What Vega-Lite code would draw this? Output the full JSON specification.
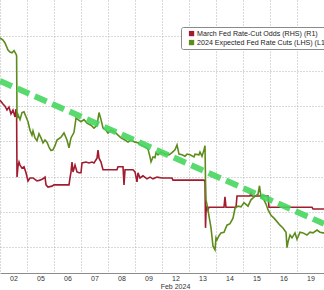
{
  "$schema": "https://vega.github.io/schema/vega-lite/v6.json",
  "width": 324,
  "height": 273,
  "autosize": {"type": "none"},
  "padding": {"left": 0, "top": 0, "right": 0, "bottom": 17},
  "background": "white",
  "config": {
    "view": {"stroke": null},
    "font": "Liberation Sans",
    "axisX": {
      "values": [0, 1, 2, 3, 4, 5, 6, 7, 8, 9, 10, 11],
      "labelExpr": "['02','05','06','07','08','09','12','13','14','15','16','19'][datum.value]",
      "labelOffset": 13.5, "labelAlign": "center", "labelFontSize": 7, "labelColor": "#333333",
      "labelPadding": 1, "labelFlush": false, "labelOverlap": false, "labelBound": false,
      "ticks": false, "grid": true, "gridDash": [1, 2], "gridColor": "#b5b5b5",
      "domainColor": "#8c8c8c",
      "titleFontSize": 7, "titleFontWeight": "normal", "titleColor": "#333333",
      "titleX": 175, "titleY": 15.5, "titleAlign": "center", "titleBaseline": "alphabetic"
    }
  },
  "datasets": {
    "odds": [
      {"t": 0, "odds": 40.2}, {"t": 0.111, "odds": 39.3}, {"t": 0.185, "odds": 38.8}, {"t": 0.259, "odds": 37.9},
      {"t": 0.333, "odds": 38.6}, {"t": 0.407, "odds": 37.0}, {"t": 0.481, "odds": 37.9}, {"t": 0.556, "odds": 36.3},
      {"t": 0.593, "odds": 38.1}, {"t": 0.615, "odds": 37.2}, {"t": 0.63, "odds": 22.3}, {"t": 0.667, "odds": 24.9},
      {"t": 0.704, "odds": 25.8}, {"t": 0.741, "odds": 25.1}, {"t": 0.815, "odds": 24.4}, {"t": 0.889, "odds": 24.7},
      {"t": 0.963, "odds": 23.3}, {"t": 1.037, "odds": 21.4}, {"t": 1.111, "odds": 22.1}, {"t": 1.222, "odds": 22.1},
      {"t": 1.37, "odds": 21.4}, {"t": 1.481, "odds": 21.6}, {"t": 1.593, "odds": 21.9}, {"t": 1.667, "odds": 22.3},
      {"t": 1.704, "odds": 20.5}, {"t": 1.778, "odds": 20.0}, {"t": 1.926, "odds": 20.2}, {"t": 2.0, "odds": 20.5},
      {"t": 2.556, "odds": 20.5}, {"t": 2.593, "odds": 22.1}, {"t": 2.63, "odds": 23.5}, {"t": 2.667, "odds": 25.8},
      {"t": 2.704, "odds": 23.5}, {"t": 2.778, "odds": 25.1}, {"t": 2.852, "odds": 23.5}, {"t": 2.926, "odds": 23.3},
      {"t": 3.0, "odds": 23.3}, {"t": 3.037, "odds": 25.6}, {"t": 3.185, "odds": 25.8}, {"t": 3.296, "odds": 25.6},
      {"t": 3.407, "odds": 25.8}, {"t": 3.481, "odds": 25.6}, {"t": 3.593, "odds": 26.7}, {"t": 3.63, "odds": 28.6},
      {"t": 3.667, "odds": 26.7}, {"t": 3.741, "odds": 25.8}, {"t": 3.815, "odds": 24.0}, {"t": 4.333, "odds": 24.0},
      {"t": 4.37, "odds": 24.7}, {"t": 4.556, "odds": 24.7}, {"t": 4.593, "odds": 20.5}, {"t": 4.63, "odds": 24.0},
      {"t": 4.926, "odds": 24.0}, {"t": 5.0, "odds": 23.5}, {"t": 5.074, "odds": 21.2}, {"t": 5.111, "odds": 23.3},
      {"t": 5.185, "odds": 22.1}, {"t": 5.296, "odds": 22.6}, {"t": 5.444, "odds": 21.9}, {"t": 5.556, "odds": 22.3},
      {"t": 5.667, "odds": 21.9}, {"t": 5.815, "odds": 22.3}, {"t": 6.0, "odds": 22.1}, {"t": 6.37, "odds": 22.1},
      {"t": 6.407, "odds": 21.6}, {"t": 7.556, "odds": 21.6}, {"t": 7.593, "odds": 21.2}, {"t": 7.611, "odds": 10.5},
      {"t": 7.63, "odds": 14.2}, {"t": 7.667, "odds": 15.6}, {"t": 7.704, "odds": 14.7}, {"t": 7.741, "odds": 15.3},
      {"t": 8.296, "odds": 15.3}, {"t": 8.333, "odds": 17.7}, {"t": 8.37, "odds": 15.3}, {"t": 8.741, "odds": 15.3},
      {"t": 8.778, "odds": 17.9}, {"t": 9.259, "odds": 17.9}, {"t": 9.296, "odds": 18.6}, {"t": 9.333, "odds": 17.9},
      {"t": 9.926, "odds": 17.9}, {"t": 9.963, "odds": 15.3}, {"t": 11.556, "odds": 15.3}, {"t": 11.593, "odds": 14.9},
      {"t": 12.0, "odds": 14.9}
    ],
    "cuts": [
      {"t": 0, "cuts": 6.47}, {"t": 0.111, "cuts": 6.44}, {"t": 0.185, "cuts": 6.40}, {"t": 0.296, "cuts": 6.30},
      {"t": 0.37, "cuts": 6.27}, {"t": 0.444, "cuts": 6.26}, {"t": 0.519, "cuts": 6.29}, {"t": 0.593, "cuts": 6.24},
      {"t": 0.615, "cuts": 6.22}, {"t": 0.63, "cuts": 5.33}, {"t": 0.667, "cuts": 5.38}, {"t": 0.741, "cuts": 5.31},
      {"t": 0.815, "cuts": 5.41}, {"t": 0.889, "cuts": 5.42}, {"t": 0.963, "cuts": 5.35}, {"t": 1.037, "cuts": 5.28},
      {"t": 1.111, "cuts": 5.16}, {"t": 1.185, "cuts": 5.09}, {"t": 1.222, "cuts": 5.15}, {"t": 1.296, "cuts": 5.05},
      {"t": 1.37, "cuts": 5.01}, {"t": 1.444, "cuts": 5.11}, {"t": 1.519, "cuts": 5.05}, {"t": 1.593, "cuts": 4.98},
      {"t": 1.667, "cuts": 5.02}, {"t": 1.741, "cuts": 4.99}, {"t": 1.815, "cuts": 4.92}, {"t": 1.889, "cuts": 4.87},
      {"t": 1.963, "cuts": 4.88}, {"t": 2.037, "cuts": 4.94}, {"t": 2.111, "cuts": 5.02}, {"t": 2.259, "cuts": 5.06},
      {"t": 2.37, "cuts": 5.12}, {"t": 2.481, "cuts": 5.02}, {"t": 2.556, "cuts": 4.91}, {"t": 2.63, "cuts": 5.05},
      {"t": 2.741, "cuts": 5.13}, {"t": 2.815, "cuts": 5.33}, {"t": 2.889, "cuts": 5.31}, {"t": 3.0, "cuts": 5.28},
      {"t": 3.111, "cuts": 5.31}, {"t": 3.222, "cuts": 5.26}, {"t": 3.37, "cuts": 5.23}, {"t": 3.481, "cuts": 5.19},
      {"t": 3.593, "cuts": 5.23}, {"t": 3.667, "cuts": 5.41}, {"t": 3.741, "cuts": 5.31}, {"t": 3.815, "cuts": 5.19},
      {"t": 3.926, "cuts": 5.16}, {"t": 4.0, "cuts": 5.12}, {"t": 4.111, "cuts": 5.16}, {"t": 4.259, "cuts": 5.13},
      {"t": 4.37, "cuts": 5.09}, {"t": 4.481, "cuts": 5.05}, {"t": 4.63, "cuts": 5.02}, {"t": 4.741, "cuts": 4.99},
      {"t": 4.852, "cuts": 5.02}, {"t": 5.0, "cuts": 4.99}, {"t": 5.111, "cuts": 4.98}, {"t": 5.222, "cuts": 4.95},
      {"t": 5.37, "cuts": 4.92}, {"t": 5.481, "cuts": 4.89}, {"t": 5.556, "cuts": 4.78}, {"t": 5.593, "cuts": 4.71},
      {"t": 5.667, "cuts": 4.78}, {"t": 5.741, "cuts": 4.77}, {"t": 5.778, "cuts": 4.84}, {"t": 5.852, "cuts": 4.81},
      {"t": 5.963, "cuts": 4.85}, {"t": 6.111, "cuts": 4.82}, {"t": 6.259, "cuts": 4.81}, {"t": 6.37, "cuts": 4.84},
      {"t": 6.481, "cuts": 4.88}, {"t": 6.556, "cuts": 4.95}, {"t": 6.63, "cuts": 4.82}, {"t": 6.741, "cuts": 4.81},
      {"t": 6.852, "cuts": 4.79}, {"t": 6.926, "cuts": 4.82}, {"t": 7.037, "cuts": 4.81}, {"t": 7.185, "cuts": 4.78},
      {"t": 7.222, "cuts": 4.82}, {"t": 7.37, "cuts": 4.81}, {"t": 7.407, "cuts": 4.85}, {"t": 7.481, "cuts": 4.79},
      {"t": 7.556, "cuts": 4.88}, {"t": 7.593, "cuts": 4.94}, {"t": 7.611, "cuts": 4.45}, {"t": 7.63, "cuts": 4.17},
      {"t": 7.704, "cuts": 4.03}, {"t": 7.741, "cuts": 3.94}, {"t": 7.815, "cuts": 3.77}, {"t": 7.889, "cuts": 3.51},
      {"t": 7.963, "cuts": 3.46}, {"t": 8.0, "cuts": 3.63}, {"t": 8.037, "cuts": 3.60}, {"t": 8.111, "cuts": 3.66},
      {"t": 8.185, "cuts": 3.70}, {"t": 8.296, "cuts": 3.71}, {"t": 8.407, "cuts": 3.81}, {"t": 8.519, "cuts": 3.83},
      {"t": 8.63, "cuts": 3.91}, {"t": 8.704, "cuts": 4.05}, {"t": 8.815, "cuts": 4.08}, {"t": 8.926, "cuts": 4.07},
      {"t": 9.037, "cuts": 4.13}, {"t": 9.185, "cuts": 4.08}, {"t": 9.296, "cuts": 4.17}, {"t": 9.407, "cuts": 4.21},
      {"t": 9.556, "cuts": 4.25}, {"t": 9.611, "cuts": 4.37}, {"t": 9.667, "cuts": 4.21}, {"t": 9.778, "cuts": 4.17},
      {"t": 9.852, "cuts": 4.11}, {"t": 9.926, "cuts": 4.03}, {"t": 10.037, "cuts": 3.95}, {"t": 10.148, "cuts": 3.91},
      {"t": 10.259, "cuts": 3.86}, {"t": 10.37, "cuts": 3.81}, {"t": 10.481, "cuts": 3.77}, {"t": 10.593, "cuts": 3.71},
      {"t": 10.63, "cuts": 3.49}, {"t": 10.667, "cuts": 3.57}, {"t": 10.741, "cuts": 3.67}, {"t": 10.815, "cuts": 3.63},
      {"t": 10.926, "cuts": 3.70}, {"t": 11.0, "cuts": 3.61}, {"t": 11.111, "cuts": 3.71}, {"t": 11.222, "cuts": 3.70},
      {"t": 11.37, "cuts": 3.67}, {"t": 11.481, "cuts": 3.71}, {"t": 11.593, "cuts": 3.70}, {"t": 11.741, "cuts": 3.74},
      {"t": 11.852, "cuts": 3.71}, {"t": 11.963, "cuts": 3.70}, {"t": 12.0, "cuts": 3.70}
    ],
    "trend": [
      {"t": 0, "cuts": 5.86}, {"t": 12, "cuts": 3.83}
    ]
  },
  "layer": [
    {
      "data": {"name": "odds"},
      "mark": {"type": "line", "strokeWidth": 1.6},
      "encoding": {
        "x": {
          "field": "t", "type": "quantitative",
          "scale": {"domain": [0, 12], "nice": false, "zero": false},
          "axis": {"title": "Feb 2024", "labelOverlap": false}
        },
        "y": {
          "field": "odds", "type": "quantitative",
          "scale": {"domain": [0, 63.49], "nice": false, "zero": false},
          "axis": null
        },
        "color": {
          "datum": "March Fed Rate-Cut Odds (RHS) (R1)",
          "type": "nominal",
          "scale": {
            "domain": ["March Fed Rate-Cut Odds (RHS) (R1)", "2024 Expected Fed Rate Cuts (LHS) (L1)"],
            "range": ["#a01c2e", "#5e8c1c"]
          },
          "legend": {
            "orient": "none", "legendX": 181, "legendY": 27, "title": null, "direction": "vertical",
            "strokeColor": "#8a8a8a", "fillColor": "white", "padding": 3, "cornerRadius": 2,
            "symbolType": "square", "symbolSize": 28, "symbolStrokeWidth": 0, "symbolOffset": 4,
            "labelFontSize": 7.1, "labelColor": "#222222", "labelOffset": 2, "rowPadding": 1, "labelLimit": 400,
            "encode": {"symbols": {"update": {"fill": {"scale": "color", "field": "value"}, "fillOpacity": {"value": 1}}}}
          }
        }
      }
    },
    {
      "layer": [
        {
          "data": {"name": "cuts"},
          "mark": {"type": "line", "strokeWidth": 1.6},
          "encoding": {
            "x": {"field": "t", "type": "quantitative", "axis": {"title": "Feb 2024", "labelOverlap": false}},
            "y": {
              "field": "cuts", "type": "quantitative",
              "scale": {"domain": [3.13, 7.01], "nice": false, "zero": false},
              "axis": {
                "values": [3.5, 4, 4.5, 5, 5.5, 6, 6.5], "grid": true, "gridDash": [1, 2], "gridColor": "#b5b5b5",
                "labels": false, "ticks": false, "domain": false, "title": null
              }
            },
            "color": {"datum": "2024 Expected Fed Rate Cuts (LHS) (L1)", "type": "nominal"}
          }
        },
        {
          "data": {"name": "trend"},
          "mark": {"type": "line", "color": "#46d65e", "strokeWidth": 6, "strokeDash": [13, 6], "opacity": 0.9, "strokeCap": "butt"},
          "encoding": {
            "x": {"field": "t", "type": "quantitative", "axis": {"title": "Feb 2024", "labelOverlap": false}},
            "y": {"field": "cuts", "type": "quantitative"}
          }
        }
      ]
    }
  ],
  "resolve": {"scale": {"y": "independent"}}
}
